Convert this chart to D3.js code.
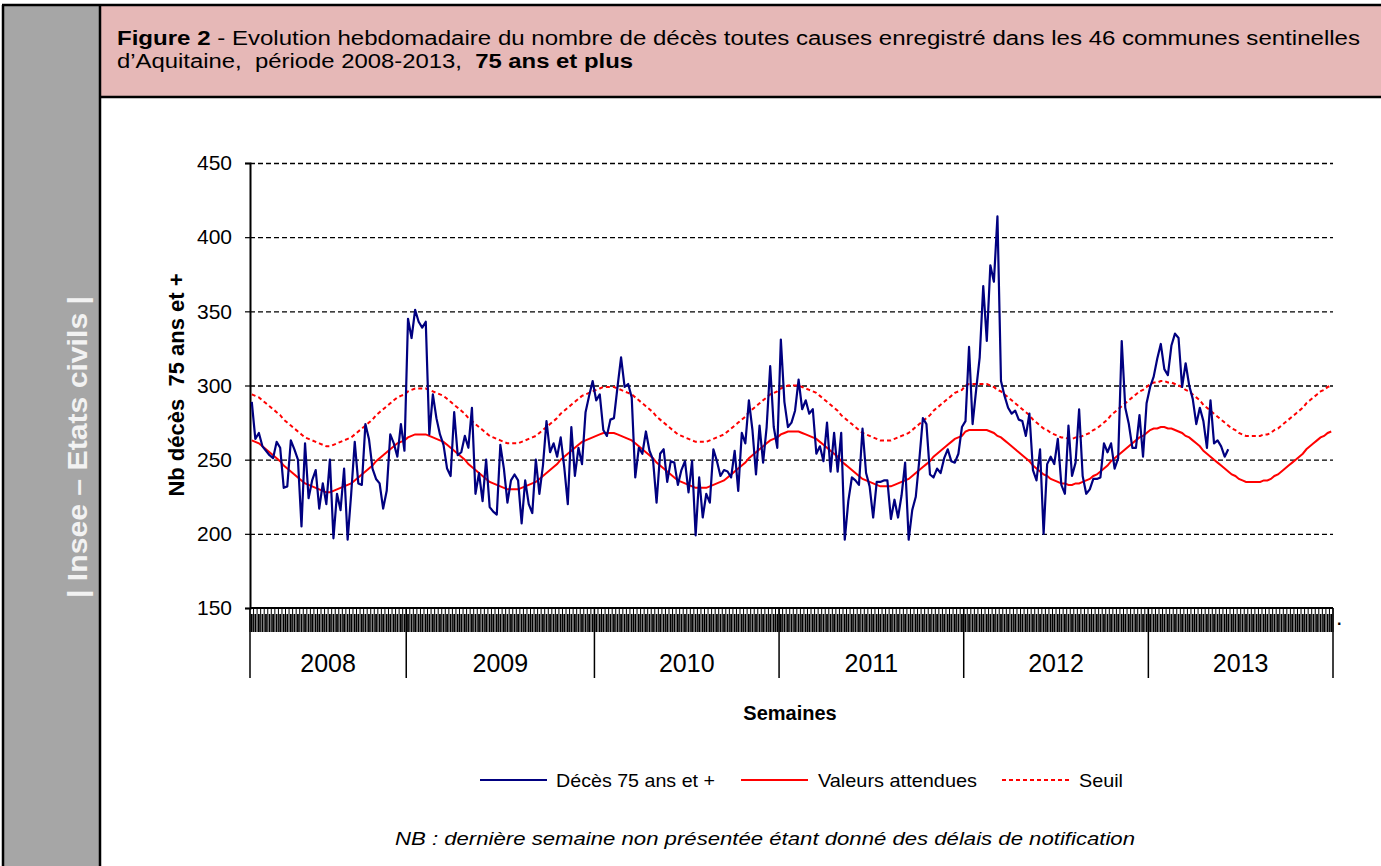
<!DOCTYPE html>
<html><head><meta charset="utf-8">
<script src="https://cdn.jsdelivr.net/npm/d3@7"></script>
<style>
body{margin:0;background:#fff;}
svg{display:block;font-family:"Liberation Sans",Arial,sans-serif;}
</style></head><body>
<svg id="c" width="1381" height="866"></svg>
<script>
const years = [2008, 2009, 2010, 2011, 2012, 2013];
const firstWeek = [9, 1, 1, 1, 1, 1];
const lastWeek = [52, 53, 52, 52, 52, 52];
const yTicks = [150, 200, 250, 300, 350, 400, 450];

const deces2008 = [289,264,268,259,256,253,251,262,258,231,232,263,257,250,205,261,224,236,243,217,234,220,250,197,227,216,244,196,227,262,234,233,274,264,244,237,234,217,229,267,261,252,274,256];
const deces2009 = [345,332,351,343,339,343,267,294,278,267,260,244,239,282,253,255,266,258,285,227,241,222,250,218,215,213,260,244,221,236,240,236,207,236,220,214,250,227,246,276,255,261,252,265,245,220,272,239,258,247,282,293,303];
const deces2010 = [290,294,270,266,277,278,299,319,299,301,292,238,258,254,269,256,250,221,254,257,235,249,248,233,243,249,228,249,199,238,211,227,221,257,249,239,243,242,238,256,229,268,261,290,270,240,273,248,272,313,272,258];
const deces2011 = [331,289,272,275,283,304,284,290,281,284,254,259,249,275,242,268,242,268,196,222,238,236,233,271,241,232,211,235,235,236,236,210,223,211,226,248,196,216,225,250,278,274,240,238,244,241,251,257,249,248,254,272];
const deces2012 = [276,326,274,297,319,367,330,381,370,414,303,293,285,281,283,277,276,266,281,243,236,257,200,247,252,247,264,233,227,273,239,248,284,239,227,230,237,237,238,261,255,261,244,251,330,285,274,258,258,280,252,288];
const deces2013 = [299,306,318,328,311,307,327,335,332,299,315,300,291,274,285,276,258,290,261,263,259,252,257];

const attendus2008 = [263,262,261,259,257,255,253,251,249,246,244,242,240,238,236,234,233,232,231,230,229,228,228,229,230,231,232,233,234,236,238,240,242,244,246,249,251,253,255,257,259,261,262,263];
const attendus2009 = [265,266,267,267,267,267,266,265,264,263,262,260,258,256,254,252,250,247,245,243,241,239,237,235,234,233,232,231,230,230,230,230,231,232,233,234,235,237,239,241,243,245,247,250,252,254,256,258,260,262,263,264,265];
const attendus2010 = [266,267,268,268,268,268,267,266,265,264,263,261,259,257,255,253,251,248,246,244,242,240,238,236,235,234,233,232,231,231,231,231,232,233,234,235,236,238,240,242,244,246,248,251,253,255,257,259,261,263,264,265];
const attendus2011 = [267,268,269,269,269,269,268,267,266,265,264,262,260,258,256,254,252,249,247,245,243,241,239,237,236,235,234,233,232,232,232,232,233,234,235,236,237,239,241,243,245,247,249,252,254,256,258,260,262,264,265,266];
const attendus2012 = [269,270,270,270,270,270,270,269,268,266,265,263,261,259,257,255,253,251,249,246,244,242,240,239,237,236,235,234,234,233,233,234,234,235,236,237,239,240,242,244,246,249,251,253,255,257,259,261,263,265,266,268];
const attendus2013 = [270,271,271,272,272,271,271,270,269,268,266,265,263,261,259,256,254,252,250,248,246,244,242,240,239,237,236,235,235,235,235,235,236,236,237,239,240,242,244,246,248,250,252,254,257,259,261,263,265,266,268,269];

const seuil2008 = [294,293,292,290,288,286,284,282,280,277,275,273,271,269,267,265,264,263,262,261,260,259,259,260,261,262,263,264,265,267,269,271,273,275,277,280,282,284,286,288,290,292,293,294];
const seuil2009 = [296,297,298,298,298,298,297,296,295,294,293,291,289,287,285,283,281,278,276,274,272,270,268,266,265,264,263,262,261,261,261,261,262,263,264,265,266,268,270,272,274,276,278,281,283,285,287,289,291,293,294,295,296];
const seuil2010 = [297,298,299,299,299,299,298,297,296,295,294,292,290,288,286,284,282,279,277,275,273,271,269,267,266,265,264,263,262,262,262,262,263,264,265,266,267,269,271,273,275,277,279,282,284,286,288,290,292,294,295,296];
const seuil2011 = [298,299,300,300,300,300,299,298,297,296,295,293,291,289,287,285,283,280,278,276,274,272,270,268,267,266,265,264,263,263,263,263,264,265,266,267,268,270,272,274,276,278,280,283,285,287,289,291,293,295,296,297];
const seuil2012 = [300,301,301,301,301,301,301,300,299,297,296,294,292,290,288,286,284,282,280,277,275,273,271,270,268,267,266,265,265,264,264,265,265,266,267,268,270,271,273,275,277,280,282,284,286,288,290,292,294,296,297,299];
const seuil2013 = [301,302,302,303,303,302,302,301,300,299,297,296,294,292,290,287,285,283,281,279,277,275,273,271,270,268,267,266,266,266,266,266,267,267,268,270,271,273,275,277,279,281,283,285,288,290,292,294,296,297,299,300];

const seriesNames = ["Décès 75 ans et +", "Valeurs attendues", "Seuil"];

// ---------- build categories (weeks) ----------
const categories = [];
years.forEach((y, k) => {
  for (let w = firstWeek[k]; w <= lastWeek[k]; w++) categories.push(y + "-S" + w);
});
const deces = [].concat(deces2008, deces2009, deces2010, deces2011, deces2012, deces2013);
const attendus = [].concat(attendus2008, attendus2009, attendus2010, attendus2011, attendus2012, attendus2013);
const seuil = [].concat(seuil2008, seuil2009, seuil2010, seuil2011, seuil2012, seuil2013);

const W = 1381, H = 866;
const svg = d3.select("#c");

// ---------- frame ----------
svg.append("rect").attr("x", 3).attr("y", 5).attr("width", 97).attr("height", H - 5).attr("fill", "#a6a6a6");
svg.append("rect").attr("x", 100).attr("y", 5).attr("width", W - 100).attr("height", 92).attr("fill", "#e6b8b7");
const frame = [[2, 5, W, 5], [3, 5, 3, H], [100, 5, 100, H], [100, 97, W, 97]];
svg.selectAll("line.frame").data(frame).enter().append("line").attr("class", "frame")
  .attr("x1", d => d[0]).attr("y1", d => d[1]).attr("x2", d => d[2]).attr("y2", d => d[3])
  .attr("stroke", "#000").attr("stroke-width", 2.5);

svg.append("text").attr("transform", "translate(78,447) rotate(-90)")
  .attr("text-anchor", "middle").attr("dominant-baseline", "central")
  .attr("textLength", 302).attr("lengthAdjust", "spacingAndGlyphs")
  .style("font-size", "27px").style("font-weight", "bold").attr("fill", "#f2f2f2")
  .text("| Insee – Etats civils |");

const t1 = svg.append("text").attr("x", 117).attr("y", 45).style("font-size", "20px").style("white-space", "pre")
  .attr("textLength", 1243).attr("lengthAdjust", "spacingAndGlyphs");
t1.append("tspan").style("font-weight", "bold").text("Figure 2");
t1.append("tspan").text(" - Evolution hebdomadaire du nombre de décès toutes causes enregistré dans les 46 communes sentinelles");
const t2 = svg.append("text").attr("x", 117).attr("y", 68).style("font-size", "20px").style("white-space", "pre")
  .attr("textLength", 516).attr("lengthAdjust", "spacingAndGlyphs");
t2.append("tspan").text("d’Aquitaine,  période 2008-2013,  ");
t2.append("tspan").style("font-weight", "bold").text("75 ans et plus");

// ---------- scales ----------
const x = d3.scaleBand().domain(categories).range([250, 1333]).paddingInner(0).paddingOuter(0);
const y = d3.scaleLinear().domain([150, 450]).range([608, 163]);
const cx = c => x(c) + x.bandwidth() / 2;

// gridlines
const grid = svg.append("g").attr("transform", "translate(250,0)")
  .call(d3.axisLeft(y).tickValues(yTicks.filter(v => v > 150)).tickSize(-1083).tickFormat(""));
grid.select(".domain").remove();
grid.selectAll("line").attr("stroke", "#000").attr("stroke-width", 1.4).attr("stroke-dasharray", "5,3");

// y axis
const ya = svg.append("g").attr("transform", "translate(250,0)")
  .call(d3.axisLeft(y).tickValues(yTicks).tickSize(5).tickPadding(13).tickFormat(d3.format("d")));
ya.select(".domain").attr("stroke", "#000").attr("stroke-width", 2);
ya.selectAll("line").attr("stroke", "#000").attr("stroke-width", 1.2);
ya.selectAll("text").style("font-size", "21px").style("font-family", "Liberation Sans, Arial, sans-serif").attr("fill", "#000");

svg.append("text").attr("transform", "translate(176,385) rotate(-90)").attr("text-anchor", "middle")
  .attr("dominant-baseline", "central").style("font-size", "22px").style("font-weight", "bold").style("white-space", "pre")
  .text("Nb décès  75 ans et +");

// ---------- x axis (weeks + years) ----------
const xa = svg.append("g");
xa.selectAll("line.wk").data(categories).enter().append("line").attr("class", "wk")
  .attr("x1", d => x(d)).attr("x2", d => x(d)).attr("y1", 608).attr("y2", 632)
  .attr("stroke", "#000").attr("stroke-width", 1);
xa.selectAll("line.wl").data(categories).enter().append("line").attr("class", "wl")
  .attr("x1", d => cx(d)).attr("x2", d => cx(d)).attr("y1", 614).attr("y2", 632)
  .attr("stroke", "#000").attr("stroke-width", 1.8);
xa.append("line").attr("x1", 1333).attr("x2", 1333).attr("y1", 608).attr("y2", 632).attr("stroke", "#000");

// year boundaries
const yearStarts = years.map((yr, k) => yr + "-S" + firstWeek[k]);
const yearEnds = years.map((yr, k) => yr + "-S" + lastWeek[k]);
const bounds = yearStarts.map(c => x(c)).concat([x(yearEnds[yearEnds.length - 1]) + x.bandwidth()]);
xa.selectAll("line.yb").data(bounds).enter().append("line").attr("class", "yb")
  .attr("x1", d => d).attr("x2", d => d).attr("y1", 608).attr("y2", 678)
  .attr("stroke", "#000").attr("stroke-width", 1.5);
xa.selectAll("text.yl").data(years).enter().append("text").attr("class", "yl")
  .attr("x", (d, k) => (x(yearStarts[k]) + x(yearEnds[k]) + x.bandwidth()) / 2).attr("y", 672)
  .attr("text-anchor", "middle").style("font-size", "25px").text(d => d);
xa.append("line").attr("x1", 250).attr("x2", 1333).attr("y1", 608).attr("y2", 608).attr("stroke", "#000").attr("stroke-width", 2);
svg.append("text").attr("x", 1337).attr("y", 625).style("font-size", "16px").style("font-weight", "bold").text(".");

svg.append("text").attr("x", 790).attr("y", 720).attr("text-anchor", "middle")
  .style("font-size", "20px").style("font-weight", "bold").text("Semaines");

// ---------- lines ----------
const line = d3.line().x(d => cx(d.c)).y(d => y(d.v));
const mk = arr => arr.map((v, i) => ({ c: categories[i], v }));
svg.append("path").datum(mk(seuil)).attr("d", line).attr("fill", "none")
  .attr("stroke", "#ff0000").attr("stroke-width", 2).attr("stroke-dasharray", "4,3");
svg.append("path").datum(mk(attendus)).attr("d", line).attr("fill", "none")
  .attr("stroke", "#ff0000").attr("stroke-width", 2);
svg.append("path").datum(mk(deces)).attr("d", line).attr("fill", "none")
  .attr("stroke", "#000080").attr("stroke-width", 2.2).attr("stroke-linejoin", "round");

// ---------- legend ----------
const leg = [
  { x: 480, color: "#000080", dash: null, tx: 556, len: 159 },
  { x: 741, color: "#ff0000", dash: null, tx: 818, len: 159 },
  { x: 1002, color: "#ff0000", dash: "4,3", tx: 1079, len: 44 }
];
leg.forEach((l, k) => {
  svg.append("line").attr("x1", l.x).attr("x2", l.x + 67).attr("y1", 780).attr("y2", 780)
    .attr("stroke", l.color).attr("stroke-width", 2).attr("stroke-dasharray", l.dash);
  svg.append("text").attr("x", l.tx).attr("y", 787).style("font-size", "19px")
    .attr("textLength", l.len).attr("lengthAdjust", "spacingAndGlyphs").text(seriesNames[k]);
});

svg.append("text").attr("x", 765).attr("y", 845).attr("text-anchor", "middle")
  .style("font-size", "19px").style("font-style", "italic")
  .attr("textLength", 740).attr("lengthAdjust", "spacingAndGlyphs")
  .text("NB : dernière semaine non présentée étant donné des délais de notification");
</script>
</body></html>
